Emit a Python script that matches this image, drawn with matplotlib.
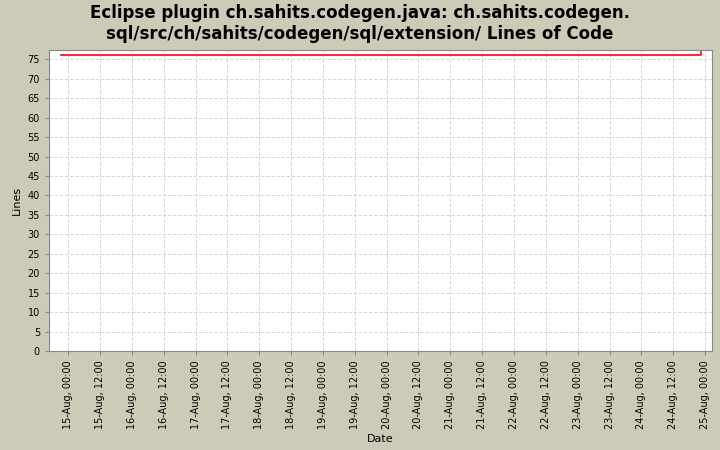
import matplotlib
matplotlib.use("Agg")
import matplotlib.pyplot as plt
import matplotlib.dates as mdates
from datetime import datetime, timedelta

dates = [datetime(2014,8,14,21,20), datetime(2014,8,24,22,30), datetime(2014,8,24,22,31)]
lines = [76, 76, 80]
yticks = list(range(0, 80, 5))

fig = plt.figure(figsize=(7.2, 4.5), dpi=100, facecolor="#cccbb8")
ax = fig.add_axes([49/720, 1-351/450, (712-49)/720, (351-50)/450])
ax.set_facecolor("white")
ax.plot(dates, lines, color="red", lw=1.2, drawstyle="steps-post")
ax.set_ylim(0, 77.4)
ax.set_yticks(yticks)
start = datetime(2014,8,15)
ax.set_xlim(start - timedelta(hours=7.2), start + timedelta(days=10, hours=2.6))
ax.xaxis.set_major_locator(mdates.HourLocator(byhour=[0,12]))
ax.xaxis.set_major_formatter(mdates.DateFormatter("%d-%b, %H:%M"))
plt.setp(ax.get_xticklabels(), rotation=90, fontsize=7)
plt.setp(ax.get_yticklabels(), fontsize=7)
ax.grid(True, color="#d8d8d8", ls="--", lw=0.7)
for s in ax.spines.values():
    s.set_color("#888888")
ax.tick_params(length=3, color="#888888")
ax.set_xlabel("Date", fontsize=8)
ax.set_ylabel("Lines", fontsize=8)
fig.suptitle("Eclipse plugin ch.sahits.codegen.java: ch.sahits.codegen.\nsql/src/ch/sahits/codegen/sql/extension/ Lines of Code",
             fontsize=12, fontweight="bold", y=0.99, linespacing=1.15)
fig.savefig("out.png", dpi=100, facecolor=fig.get_facecolor())
